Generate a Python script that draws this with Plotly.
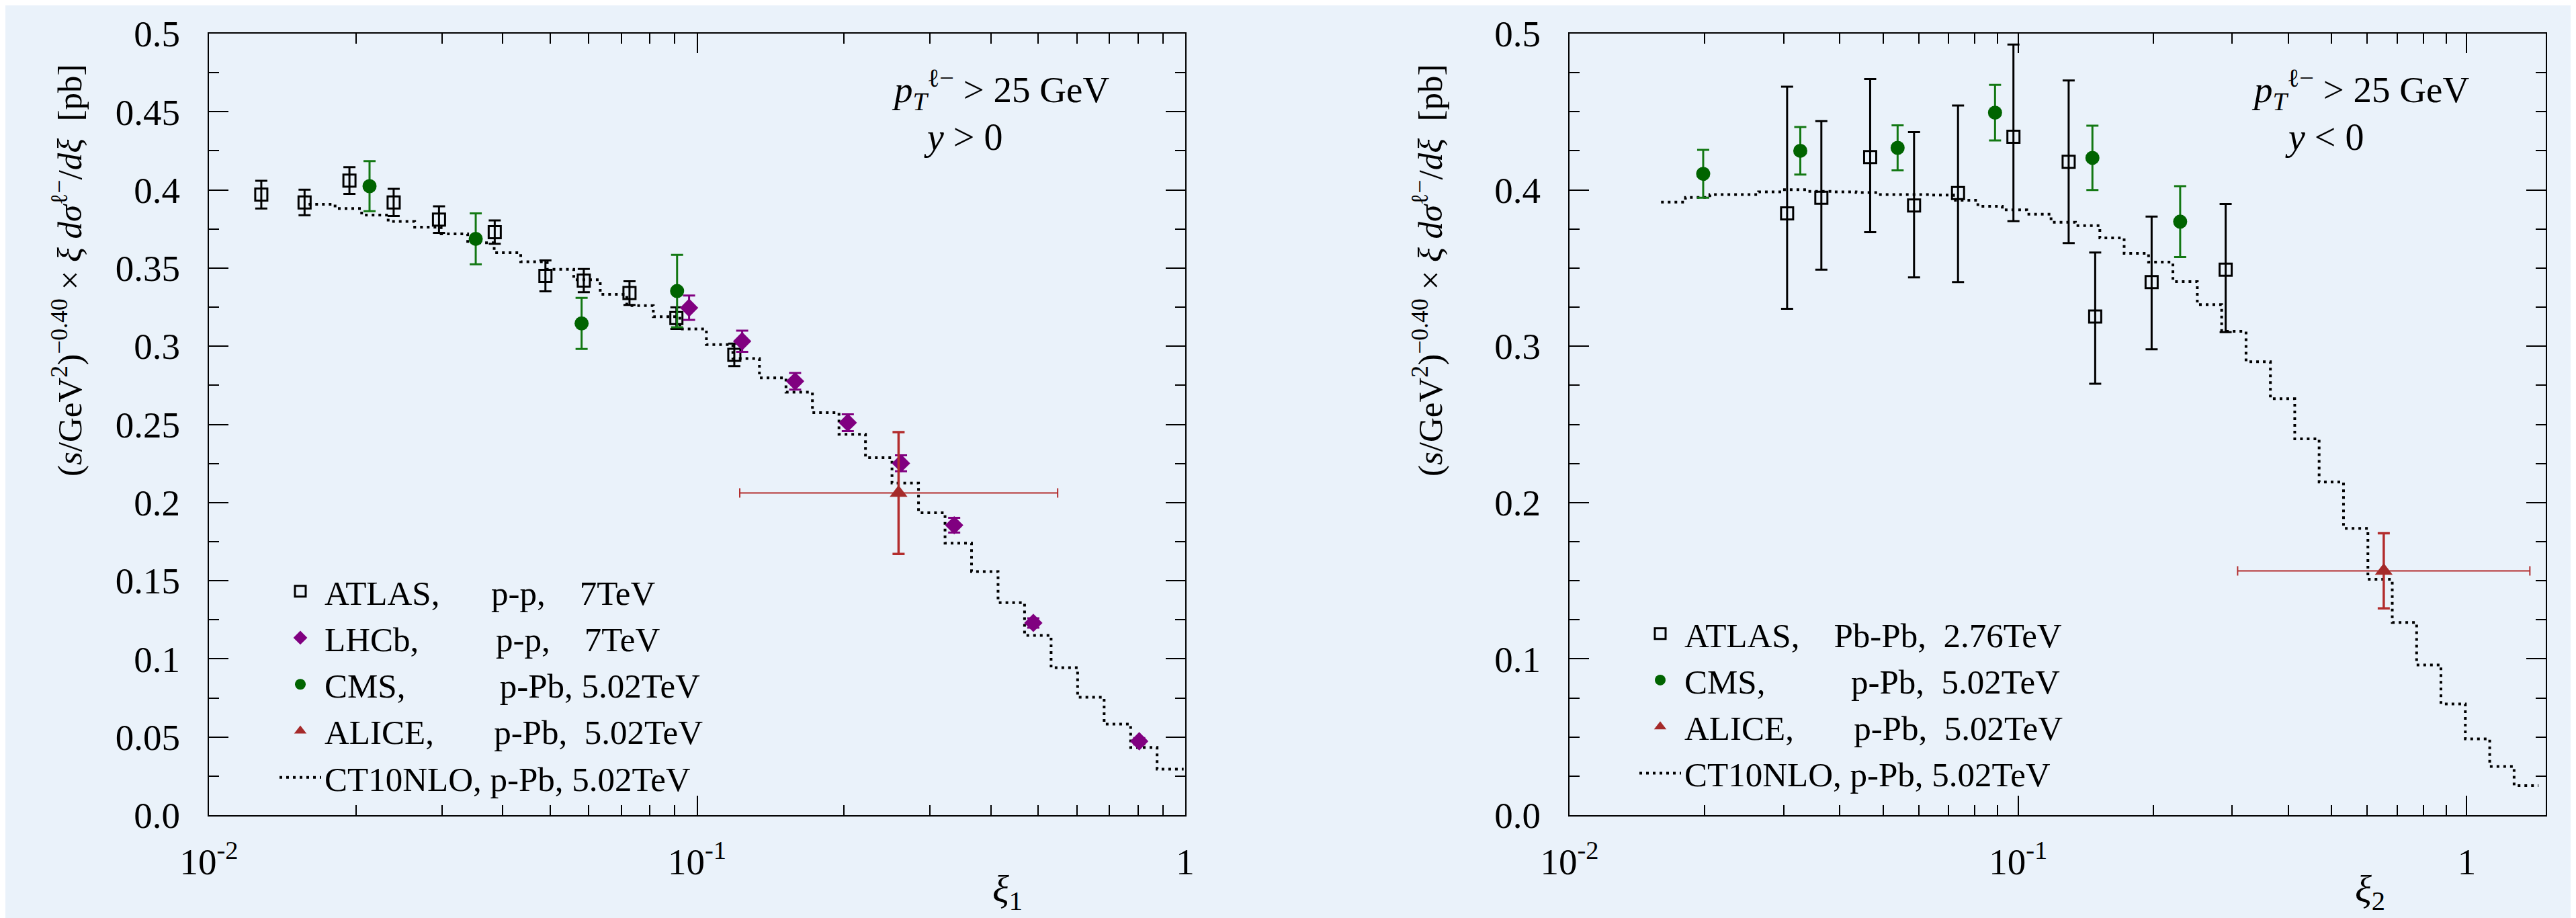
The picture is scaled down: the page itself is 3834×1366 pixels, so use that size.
import plotly.graph_objects as go

W, H = 3834, 1366
BG = "#eaf2fa"
FONT = "Liberation Serif"
NB = "\u00a0"

# ---------------- panel 1 : y > 0 ----------------
atlas1_x = [0.0128, 0.0157, 0.0194, 0.0239, 0.0296, 0.0385, 0.0489, 0.0586, 0.0727, 0.0907, 0.1192]
atlas1_y = [0.397, 0.392, 0.406, 0.392, 0.381, 0.373, 0.345, 0.342, 0.334, 0.318, 0.2945]
atlas1_e = [0.0089, 0.0082, 0.0085, 0.0087, 0.0085, 0.0075, 0.0099, 0.0074, 0.0076, 0.0069, 0.0072]

lhcb1_x = [0.0963, 0.1237, 0.1588, 0.2036, 0.2617, 0.3363, 0.4885, 0.805]
lhcb1_y = [0.3246, 0.3032, 0.2776, 0.2511, 0.2251, 0.1855, 0.123, 0.0473]
lhcb1_e = [0.0078, 0.0068, 0.0053, 0.0054, 0.0051, 0.0047, 0.003, 0.002]

cms1_x = [0.02133, 0.0352, 0.058, 0.091]
cms1_y = [0.4024, 0.3687, 0.3146, 0.3353]
cms1_e = [0.016, 0.0163, 0.0163, 0.0232]

alice1_x = [0.2587]
alice1_y = [0.2061]
alice1_ey = [0.039]
alice1_exm = [0.1364]
alice1_exp = [0.2892]

# ---------------- panel 2 : y < 0 ----------------
atlas2_x = [0.03055, 0.03642, 0.04679, 0.05861, 0.07345, 0.09761, 0.1296, 0.1485, 0.1984, 0.2901]
atlas2_y = [0.385, 0.395, 0.421, 0.390, 0.398, 0.434, 0.418, 0.319, 0.341, 0.349]
atlas2_ep = [0.081, 0.049, 0.050, 0.047, 0.056, 0.059, 0.052, 0.041, 0.042, 0.042]
atlas2_em = [0.061, 0.046, 0.048, 0.046, 0.057, 0.054, 0.052, 0.043, 0.043, 0.040]

cms2_x = [0.01986, 0.03269, 0.05387, 0.08882, 0.1464, 0.2297]
cms2_y = [0.4103, 0.425, 0.4269, 0.4494, 0.4205, 0.3797]
cms2_e = [0.0153, 0.0152, 0.0144, 0.0178, 0.0206, 0.0227]

alice2_x = [0.6531]
alice2_y = [0.1563]
alice2_ey = [0.024]
alice2_exm = [0.3446]
alice2_exp = [0.7294]

# ---------------- CT10NLO theory (step histogram) ----------------
ct10_edges = [0.01600, 0.01813, 0.02055, 0.02329, 0.02639, 0.02990, 0.03389, 0.03840,
              0.04352, 0.04932, 0.05589, 0.06333, 0.07178, 0.08134, 0.09219, 0.1045,
              0.1184, 0.1342, 0.1521, 0.1723, 0.1953, 0.2213, 0.2508, 0.2842,
              0.3221, 0.3650, 0.4136, 0.4687, 0.5312, 0.6020, 0.6822, 0.7731,
              0.8758, 0.9926, 1.125, 1.275, 1.445]
ct10_y1 = [0.3908, 0.3881, 0.3839, 0.3798, 0.3762, 0.3719, 0.3662, 0.3598, 0.3540,
           0.3492, 0.3425, 0.3332, 0.3260, 0.3189, 0.3110, 0.3010, 0.2921, 0.2798,
           0.2706, 0.2575, 0.2437, 0.2287, 0.2125, 0.1935, 0.1740, 0.1559, 0.1360,
           0.1150, 0.0944, 0.0754, 0.0583, 0.0433, 0.0295]
ct10_y2 = [0.3922, 0.3952, 0.3970, 0.3970, 0.3988, 0.4001, 0.3991, 0.3988, 0.3983,
           0.3970, 0.3970, 0.3967, 0.3934, 0.3895, 0.3872, 0.3845, 0.3793, 0.3772,
           0.3693, 0.3594, 0.3538, 0.3414, 0.3266, 0.3095, 0.2901, 0.2664, 0.2408,
           0.2131, 0.1835, 0.1509, 0.1233, 0.0961, 0.0712, 0.0488, 0.0312, 0.0189]

# legend labels
lab1 = ["ATLAS," + NB * 6 + "p-p," + NB * 4 + "7TeV",
        "LHCb," + NB * 9 + "p-p," + NB * 4 + "7TeV",
        "CMS," + NB * 11 + "p-Pb," + NB + "5.02TeV",
        "ALICE," + NB * 7 + "p-Pb," + NB * 2 + "5.02TeV",
        "CT10NLO, p-Pb, 5.02TeV"]
lab2 = ["ATLAS," + NB * 4 + "Pb-Pb," + NB * 2 + "2.76TeV",
        "CMS," + NB * 10 + "p-Pb," + NB * 2 + "5.02TeV",
        "ALICE," + NB * 7 + "p-Pb," + NB * 2 + "5.02TeV",
        "CT10NLO, p-Pb, 5.02TeV"]

# ---------------- styles ----------------
C_ATLAS = "black"
C_LHCB = "#800080"
C_CMS = "#006400"
C_CMS_E = "#137813"
C_ALICE = "#a52a2a"
C_ALICE_E = "#b32d2d"
DOT = "4px,6px"


def px(x):
    return x / W


def py(y):
    return 1 - y / H


fig = go.Figure()


def add_panel(xa, ya, leg, edges, theory, atlas, lhcb, cms, alice, labels):
    n = len(theory)
    li = 0
    fig.add_trace(go.Scatter(
        x=edges[:n + 1], y=list(theory) + [theory[-1]], mode="lines", line_shape="hv",
        line=dict(color="black", width=4, dash=DOT), name=labels[-1],
        legend=leg, legendrank=10, xaxis=xa, yaxis=ya, cliponaxis=True))
    ax_, ay_, aep, aem = atlas
    fig.add_trace(go.Scatter(
        x=ax_, y=ay_, mode="markers", name=labels[li], legend=leg, legendrank=1,
        marker=dict(symbol="square-open", size=18, color=C_ATLAS, line=dict(width=3, color=C_ATLAS)),
        error_y=dict(type="data", array=aep, arrayminus=aem, color=C_ATLAS, thickness=3, width=9),
        xaxis=xa, yaxis=ya, cliponaxis=False))
    li += 1
    if lhcb is not None:
        lx, ly, le = lhcb
        fig.add_trace(go.Scatter(
            x=lx, y=ly, mode="markers", name=labels[li], legend=leg, legendrank=2,
            marker=dict(symbol="diamond", size=21, color=C_LHCB),
            error_y=dict(type="data", array=le, color=C_LHCB, thickness=3, width=9),
            xaxis=xa, yaxis=ya, cliponaxis=False))
        li += 1
    cx, cy, ce = cms
    fig.add_trace(go.Scatter(
        x=cx, y=cy, mode="markers", name=labels[li], legend=leg, legendrank=3,
        marker=dict(symbol="circle", size=21, color=C_CMS),
        error_y=dict(type="data", array=ce, color=C_CMS_E, thickness=3, width=9),
        xaxis=xa, yaxis=ya, cliponaxis=False))
    li += 1
    alx, aly, aley, alxm, alxp = alice
    fig.add_trace(go.Scatter(
        x=alx, y=aly, mode="markers", name=labels[li], legend=leg, legendrank=4,
        marker=dict(symbol="triangle-up", size=23, color=C_ALICE),
        error_y=dict(type="data", array=aley, color=C_ALICE_E, thickness=3.5, width=9),
        error_x=dict(type="data", array=alxp, arrayminus=alxm, color=C_ALICE_E, thickness=2, width=7),
        xaxis=xa, yaxis=ya, cliponaxis=False))


add_panel("x", "y", "legend", ct10_edges, ct10_y1,
          (atlas1_x, atlas1_y, atlas1_e, atlas1_e),
          (lhcb1_x, lhcb1_y, lhcb1_e),
          (cms1_x, cms1_y, cms1_e),
          (alice1_x, alice1_y, alice1_ey, alice1_exm, alice1_exp), lab1)
add_panel("x2", "y2", "legend2", ct10_edges, ct10_y2,
          (atlas2_x, atlas2_y, atlas2_ep, atlas2_em),
          None,
          (cms2_x, cms2_y, cms2_e),
          (alice2_x, alice2_y, alice2_ey, alice2_exm, alice2_exp), lab2)

TICKFONT = dict(family=FONT, size=55, color="black")
minor_x = [m * 10.0 ** e for e in (-2, -1, 0) for m in range(2, 10)]


def xcfg(domain, rng, anchor):
    return dict(type="log", domain=domain, range=rng, anchor=anchor,
                showline=True, linecolor="black", linewidth=2, mirror="allticks",
                ticks="inside", ticklen=29, tickwidth=2, tickcolor="black",
                tickmode="array", tickvals=[0.01, 0.1, 1],
                ticktext=["10<sup>-2</sup>", "10<sup>-1</sup>", "1"],
                tickfont=TICKFONT, ticklabelstandoff=20,
                minor=dict(ticks="inside", ticklen=15, tickwidth=2, tickcolor="black",
                           tickmode="array", tickvals=minor_x, showgrid=False),
                showgrid=False, zeroline=False, automargin=False)


def ycfg(domain, anchor, major, labels, minor):
    return dict(domain=domain, range=[0, 0.5], anchor=anchor,
                showline=True, linecolor="black", linewidth=2, mirror="allticks",
                ticks="inside", ticklen=29, tickwidth=2, tickcolor="black",
                tickmode="array", tickvals=major, ticktext=labels,
                tickfont=TICKFONT, ticklabelstandoff=30,
                minor=dict(ticks="inside", ticklen=15, tickwidth=2, tickcolor="black",
                           tickmode="array", tickvals=minor, showgrid=False),
                showgrid=False, zeroline=False, automargin=False)


ydom = [py(1205), py(42)]
y1_major = [0.0, 0.05, 0.1, 0.15, 0.2, 0.25, 0.3, 0.35, 0.4, 0.45, 0.5]
y1_labels = ["0.0", "0.05", "0.1", "0.15", "0.2", "0.25", "0.3", "0.35", "0.4", "0.45", "0.5"]
y1_minor = [0.025, 0.075, 0.125, 0.175, 0.225, 0.275, 0.325, 0.375, 0.425, 0.475]
y2_major = [0.0, 0.1, 0.2, 0.3, 0.4, 0.5]
y2_labels = ["0.0", "0.1", "0.2", "0.3", "0.4", "0.5"]
y2_minor = [0.025, 0.05, 0.075, 0.125, 0.15, 0.175, 0.225, 0.25, 0.275,
            0.325, 0.35, 0.375, 0.425, 0.45, 0.475]

LEGFONT = dict(family=FONT, size=51, color="black")

fig.update_layout(
    width=W, height=H, margin=dict(l=0, r=0, t=0, b=0),
    paper_bgcolor=BG, plot_bgcolor=BG, showlegend=True,
    font=dict(family=FONT, color="black"),
    xaxis=xcfg([px(303), px(1756)], [-2, 0], "y"),
    yaxis=ycfg(ydom, "x", y1_major, y1_labels, y1_minor),
    xaxis2=xcfg([px(2328), px(3781)], [-2, 0.17609], "y2"),
    yaxis2=ycfg(ydom, "x2", y2_major, y2_labels, y2_minor),
    legend=dict(x=px(403), y=py(832), xanchor="left", yanchor="top",
                bgcolor="rgba(0,0,0,0)", borderwidth=0, font=LEGFONT,
                itemwidth=62, traceorder="normal", tracegroupgap=0),
    legend2=dict(x=px(2427), y=py(895), xanchor="left", yanchor="top",
                 bgcolor="rgba(0,0,0,0)", borderwidth=0, font=LEGFONT,
                 itemwidth=62, traceorder="normal", tracegroupgap=0),
)

ytitle = ("(<i>s</i>/GeV<sup>2</sup>)<sup>\u22120.40</sup> \u00d7 <i>\u03be</i> "
          "<i>d\u03c3</i><sup>\u2113\u2212</sup>/<i>d\u03be</i>  [pb]")
ann = []
for xc in (92, 2117):
    ann.append(dict(x=px(xc), y=py(395), xref="paper", yref="paper", text=ytitle,
                    textangle=-90, showarrow=False, xanchor="center", yanchor="middle",
                    font=dict(family=FONT, size=51, color="black")))
for xc, sub in ((1491, "1"), (3519, "2")):
    ann.append(dict(x=px(xc), y=py(1318), xref="paper", yref="paper",
                    text="<i>\u03be</i><sub>" + sub + "</sub>", showarrow=False,
                    xanchor="center", yanchor="middle",
                    font=dict(family=FONT, size=58, color="black")))
for xc1, xc2, txt in ((1481, 1425, "<i>y</i> > 0"), (3505, 3451, "<i>y</i> < 0")):
    ann.append(dict(x=px(xc1), y=py(125), xref="paper", yref="paper",
                    text="<i>p</i><sub><i>T</i></sub><sup>\u2113\u2212</sup> > 25 GeV",
                    showarrow=False, xanchor="center", yanchor="middle",
                    font=dict(family=FONT, size=55, color="black")))
    ann.append(dict(x=px(xc2), y=py(196), xref="paper", yref="paper", text=txt,
                    showarrow=False, xanchor="center", yanchor="middle",
                    font=dict(family=FONT, size=56, color="black")))
fig.update_layout(annotations=ann)

fig.write_html("out.html")
